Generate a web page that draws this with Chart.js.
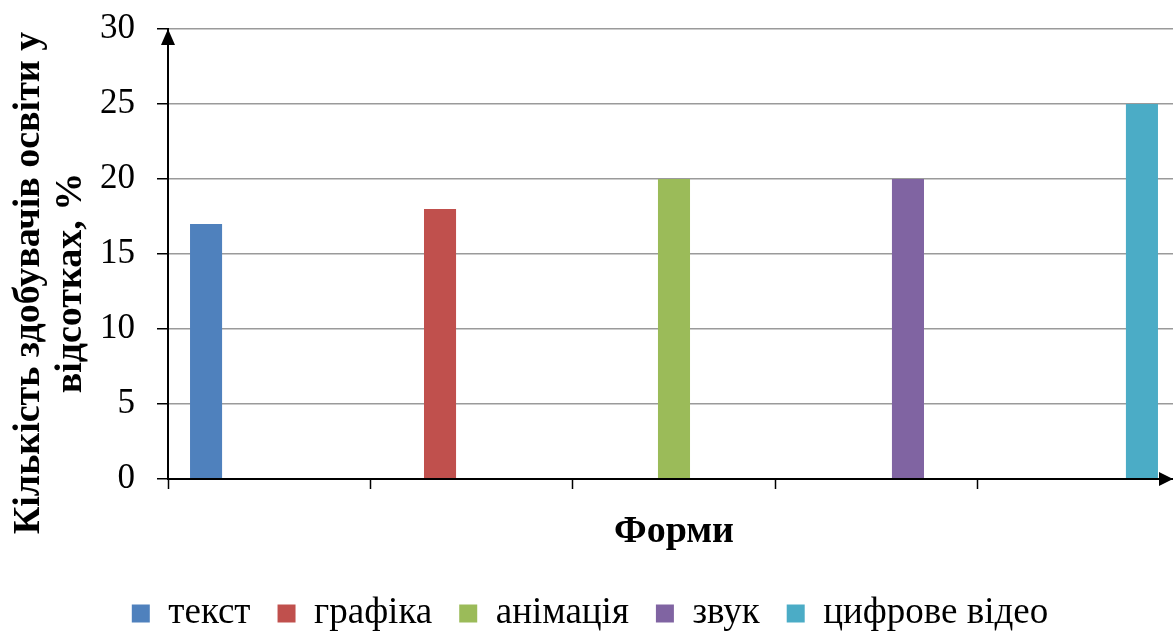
<!DOCTYPE html>
<html lang="uk">
<head>
<meta charset="utf-8">
<title>Форми</title>
<script src="https://cdn.jsdelivr.net/npm/chart.js@4"></script>
<style>
  html, body { margin: 0; padding: 0; background: #fff; overflow: hidden; }
  #chart { display: block; }
</style>
</head>
<body>
<!-- полотно трохи ширше за вікно: в оригіналі вісь X заходить за правий край -->
<canvas id="chart" width="1180" height="635"></canvas>
<script>
const categories = ['Форми'];
const seriesNames = ['текст', 'графіка', 'анімація', 'звук', 'цифрове відео'];
const seriesValues = [17, 18, 20, 20, 25];
const seriesColors = ['#4F81BD', '#C0504D', '#9BBB59', '#8064A2', '#4BACC6'];
const yTitle = ['Кількість здобувачів освіти у', 'відсотках, %'];
const xTitle = 'Форми';
const xTickLabels = ['', '', '', '', ''];

const SERIF = '"Liberation Serif", "Times New Roman", serif';
const VISIBLE_WIDTH = 1173;

// стрілки на кінцях осей + підпис осі Y (в Excel він зсунутий нижче центру)
const axisDecor = {
  id: 'axisDecor',
  afterDraw(c) {
    const { ctx, chartArea: a } = c;
    const right = Math.min(a.right, VISIBLE_WIDTH);
    ctx.save();
    ctx.fillStyle = '#000';
    ctx.beginPath();
    ctx.moveTo(a.left, a.top);
    ctx.lineTo(a.left - 7, a.top + 16);
    ctx.lineTo(a.left + 7, a.top + 16);
    ctx.closePath();
    ctx.fill();
    ctx.beginPath();
    ctx.moveTo(right, a.bottom);
    ctx.lineTo(right - 14, a.bottom - 7);
    ctx.lineTo(right - 14, a.bottom + 7);
    ctx.closePath();
    ctx.fill();

    ctx.font = 'bold 38px ' + SERIF;
    ctx.textAlign = 'center';
    ctx.textBaseline = 'middle';
    ctx.translate(0, 283);
    ctx.rotate(-Math.PI / 2);
    yTitle.forEach((line, i) => ctx.fillText(line, 0, 29 + i * 42));
    ctx.restore();
  }
};

const datasets = seriesNames.map((name, i) => ({
  label: name,
  data: [seriesValues[i]],
  backgroundColor: seriesColors[i],
  borderWidth: 0,
  xAxisID: 'x',
  categoryPercentage: 1.156,
  barPercentage: 0.137
}));

new Chart(document.getElementById('chart'), {
  type: 'bar',
  data: { labels: categories, datasets },
  plugins: [axisDecor],
  options: {
    responsive: false,
    devicePixelRatio: 1,
    animation: false,
    layout: { padding: { top: 29, right: 0, bottom: -7, left: 0 } },
    plugins: {
      tooltip: { enabled: false },
      legend: {
        position: 'bottom',
        labels: {
          color: '#000',
          font: { family: SERIF, size: 37 },
          boxWidth: 18,
          boxHeight: 18,
          padding: 27
        }
      }
    },
    scales: {
      x: {
        type: 'category',
        position: 'bottom',
        weight: 1,
        offset: true,
        grid: { display: false, drawTicks: false },
        border: { display: false },
        ticks: { display: false },
        title: {
          display: true,
          text: xTitle,
          color: '#000',
          font: { family: SERIF, size: 38, weight: 'bold' },
          padding: { top: 0, bottom: 13 }
        },
        afterFit(s) { s.height = 77; }
      },
      xt: {
        type: 'category',
        labels: xTickLabels,
        position: 'bottom',
        weight: 0,
        offset: true,
        ticks: { display: false },
        grid: { offset: true, drawOnChartArea: false, drawTicks: true, tickLength: 10, tickColor: '#000', tickWidth: 1.5 },
        border: { display: true, color: '#000', width: 2, z: 1 },
        afterFit(s) { s.height = 12; }
      },
      y: {
        min: 0,
        max: 30,
        ticks: {
          stepSize: 5,
          padding: 22,
          color: '#000',
          font: { family: SERIF, size: 35 }
        },
        grid: { color: '#9a9a9a', lineWidth: 1.5, tickColor: '#000', tickLength: 11, tickWidth: 1.5 },
        border: { display: true, color: '#000', width: 2, z: 1 },
        afterFit(s) {
          s.width = 168;
          s.paddingTop = 0;
          s.paddingBottom = 0;
        }
      }
    }
  }
});
</script>
</body>
</html>
